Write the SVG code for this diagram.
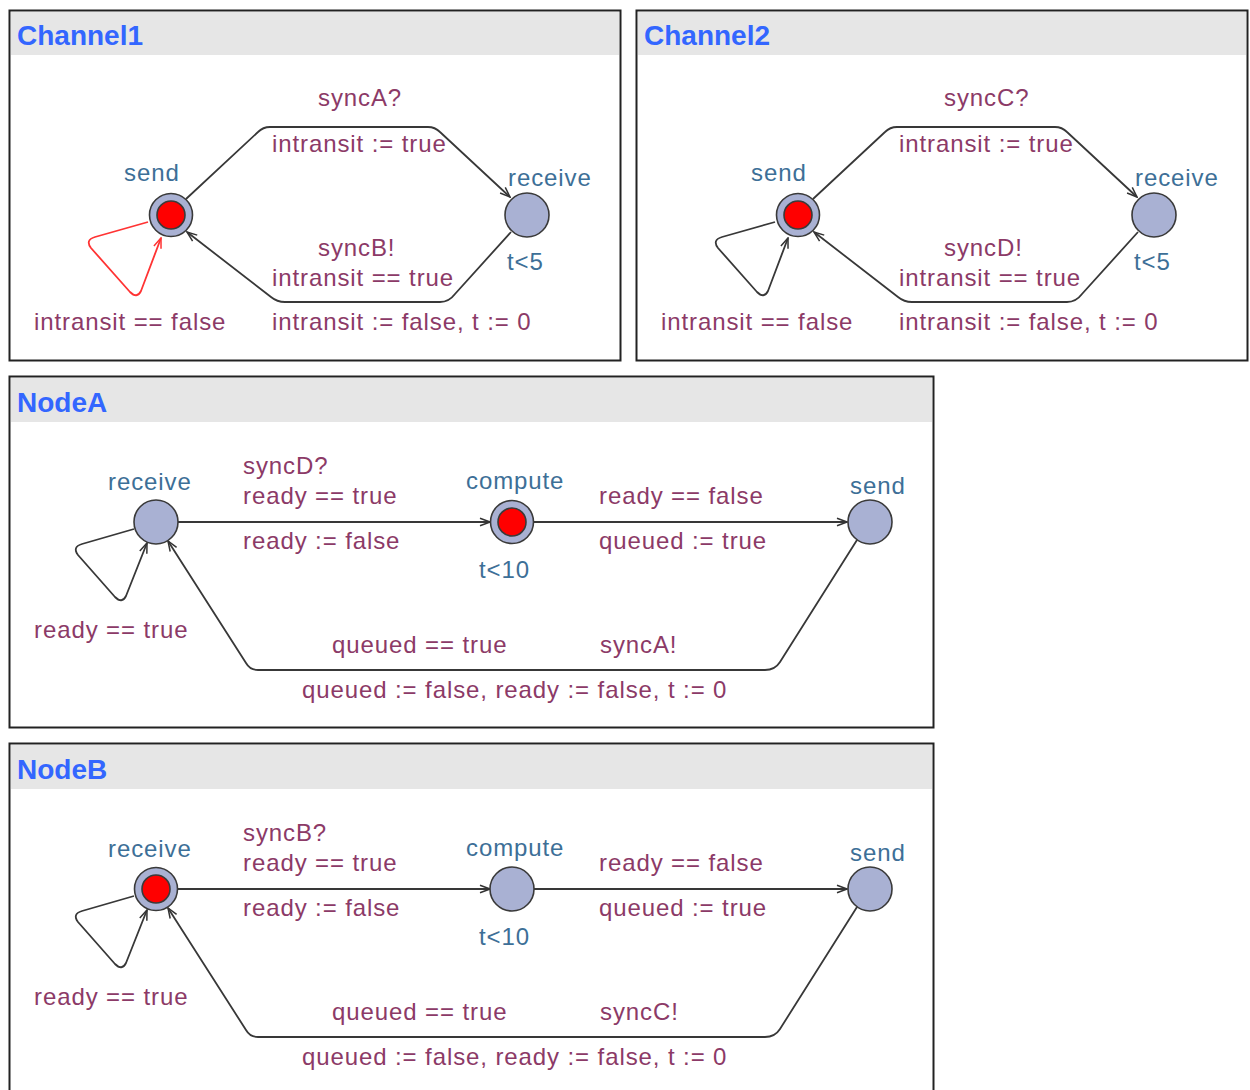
<svg xmlns="http://www.w3.org/2000/svg" width="1250" height="1090" viewBox="0 0 1250 1090">
  <defs>
    <style>
      .panel { fill: #ffffff; stroke: #222222; stroke-width: 2; }
      .hdr { fill: #e6e6e6; }
      .title { font-family: "Liberation Sans", Arial, sans-serif; font-weight: bold; font-size: 28px; fill: #3366ff; }
      .lbl { font-family: "Liberation Sans", Arial, sans-serif; font-size: 24px; fill: #8c3a67; letter-spacing: 0.9px; }
      .name { font-family: "Liberation Sans", Arial, sans-serif; font-size: 24px; fill: #3d6f97; letter-spacing: 0.9px; }
      .loc { fill: #a9b1d3; stroke: #3a3a3a; stroke-width: 1.6; }
      .cur { fill: #ff0000; stroke: #3a3a3a; stroke-width: 1.6; }
      .edge { fill: none; stroke: #383838; stroke-width: 1.8; marker-end: url(#arr); }
      .edge-red { fill: none; stroke: #ff3333; stroke-width: 1.8; marker-end: url(#arr-red); }
    </style>
    <marker id="arr" viewBox="0 0 12 10" refX="11" refY="5" markerWidth="12" markerHeight="10" markerUnits="userSpaceOnUse" orient="auto">
      <path d="M1,1.2 L11,5 L1,8.8" fill="none" stroke="#333333" stroke-width="1.5"/>
    </marker>
    <marker id="arr-red" viewBox="0 0 12 10" refX="11" refY="5" markerWidth="12" markerHeight="10" markerUnits="userSpaceOnUse" orient="auto">
      <path d="M1,1.2 L11,5 L1,8.8" fill="none" stroke="#ff3333" stroke-width="1.5"/>
    </marker>
  </defs>

  <rect width="1250" height="1090" fill="#ffffff"/>

  <!-- ===== Channel1 ===== -->
  <g id="channel1">
    <rect class="panel" x="9.5" y="10.5" width="611" height="350"/>
    <rect class="hdr" x="11" y="12" width="608" height="43"/>
    <text class="title" x="17" y="45">Channel1</text>

    <g id="channel1-edges">
      <path class="edge" d="M186,199 L258,132 Q263,127 270,127 L428,127 Q435,127 440,132 L510,197"/>
      <path class="edge" d="M511,232 L455,294 Q449,302 440,302 L285,302 Q277,302 271,297 L187,232"/>
      <path class="edge-red" d="M148,222 L95,237 Q85,240 91,248 L130,292 Q137,299 141,291 L161,238"/>
    </g>

    <g id="channel1-send">
      <circle class="loc" cx="171" cy="215" r="21.5"/>
      <circle class="cur" cx="171" cy="215" r="14"/>
      <text class="name" x="124" y="181">send</text>
    </g>
    <g id="channel1-receive">
      <circle class="loc" cx="527" cy="215" r="22"/>
      <text class="name" x="508" y="186">receive</text>
      <text class="name" x="507" y="270">t&lt;5</text>
    </g>

    <g id="channel1-labels">
      <text class="lbl" x="318" y="106">syncA?</text>
      <text class="lbl" x="272" y="152">intransit := true</text>
      <text class="lbl" x="318" y="256">syncB!</text>
      <text class="lbl" x="272" y="286">intransit == true</text>
      <text class="lbl" x="272" y="330">intransit := false, t := 0</text>
      <text class="lbl" x="34" y="330">intransit == false</text>
    </g>
  </g>

  <!-- ===== Channel2 ===== -->
  <g id="channel2">
    <rect class="panel" x="636.5" y="10.5" width="611" height="350"/>
    <rect class="hdr" x="638" y="12" width="608" height="43"/>
    <text class="title" x="644" y="45">Channel2</text>

    <g id="channel2-edges">
      <path class="edge" d="M813,199 L885,132 Q890,127 897,127 L1055,127 Q1062,127 1067,132 L1137,197"/>
      <path class="edge" d="M1138,232 L1082,294 Q1076,302 1067,302 L912,302 Q904,302 898,297 L814,232"/>
      <path class="edge" d="M775,222 L722,237 Q712,240 718,248 L757,292 Q764,299 768,291 L788,238"/>
    </g>

    <g id="channel2-send">
      <circle class="loc" cx="798" cy="215" r="21.5"/>
      <circle class="cur" cx="798" cy="215" r="14"/>
      <text class="name" x="751" y="181">send</text>
    </g>
    <g id="channel2-receive">
      <circle class="loc" cx="1154" cy="215" r="22"/>
      <text class="name" x="1135" y="186">receive</text>
      <text class="name" x="1134" y="270">t&lt;5</text>
    </g>

    <g id="channel2-labels">
      <text class="lbl" x="944" y="106">syncC?</text>
      <text class="lbl" x="899" y="152">intransit := true</text>
      <text class="lbl" x="944" y="256">syncD!</text>
      <text class="lbl" x="899" y="286">intransit == true</text>
      <text class="lbl" x="899" y="330">intransit := false, t := 0</text>
      <text class="lbl" x="661" y="330">intransit == false</text>
    </g>
  </g>

  <!-- ===== NodeA ===== -->
  <g id="nodeA">
    <rect class="panel" x="9.5" y="376.5" width="924" height="351"/>
    <rect class="hdr" x="11" y="378" width="921" height="44"/>
    <text class="title" x="17" y="412">NodeA</text>

    <g id="nodeA-edges">
      <path class="edge" d="M178,522 L490,522"/>
      <path class="edge" d="M534,522 L847,522"/>
      <path class="edge" d="M857,540 L780,662 Q775,670 765,670 L258,670 Q250,670 246,663 L168,541"/>
      <path class="edge" d="M134,529 L82,544 Q72,547 78,555 L115,597 Q122,604 126,596 L147,543"/>
    </g>

    <g id="nodeA-receive">
      <circle class="loc" cx="156" cy="522" r="22"/>
      <text class="name" x="108" y="490">receive</text>
    </g>
    <g id="nodeA-compute">
      <circle class="loc" cx="512" cy="522" r="21.5"/>
      <circle class="cur" cx="512" cy="522" r="14"/>
      <text class="name" x="466" y="489">compute</text>
      <text class="name" x="479" y="578">t&lt;10</text>
    </g>
    <g id="nodeA-send">
      <circle class="loc" cx="870" cy="522" r="22"/>
      <text class="name" x="850" y="494">send</text>
    </g>

    <g id="nodeA-labels">
      <text class="lbl" x="243" y="474">syncD?</text>
      <text class="lbl" x="243" y="504">ready == true</text>
      <text class="lbl" x="243" y="549">ready := false</text>
      <text class="lbl" x="599" y="504">ready == false</text>
      <text class="lbl" x="599" y="549">queued := true</text>
      <text class="lbl" x="34" y="638">ready == true</text>
      <text class="lbl" x="332" y="653">queued == true</text>
      <text class="lbl" x="600" y="653">syncA!</text>
      <text class="lbl" x="302" y="698">queued := false, ready := false, t := 0</text>
    </g>
  </g>

  <!-- ===== NodeB ===== -->
  <g id="nodeB">
    <rect class="panel" x="9.5" y="743.5" width="924" height="360"/>
    <rect class="hdr" x="11" y="745" width="921" height="44"/>
    <text class="title" x="17" y="779">NodeB</text>

    <g id="nodeB-edges">
      <path class="edge" d="M178,889 L490,889"/>
      <path class="edge" d="M534,889 L847,889"/>
      <path class="edge" d="M857,907 L780,1029 Q775,1037 765,1037 L258,1037 Q250,1037 246,1030 L168,908"/>
      <path class="edge" d="M134,896 L82,911 Q72,914 78,922 L115,964 Q122,971 126,963 L147,910"/>
    </g>

    <g id="nodeB-receive">
      <circle class="loc" cx="156" cy="889" r="21.5"/>
      <circle class="cur" cx="156" cy="889" r="14"/>
      <text class="name" x="108" y="857">receive</text>
    </g>
    <g id="nodeB-compute">
      <circle class="loc" cx="512" cy="889" r="22"/>
      <text class="name" x="466" y="856">compute</text>
      <text class="name" x="479" y="945">t&lt;10</text>
    </g>
    <g id="nodeB-send">
      <circle class="loc" cx="870" cy="889" r="22"/>
      <text class="name" x="850" y="861">send</text>
    </g>

    <g id="nodeB-labels">
      <text class="lbl" x="243" y="841">syncB?</text>
      <text class="lbl" x="243" y="871">ready == true</text>
      <text class="lbl" x="243" y="916">ready := false</text>
      <text class="lbl" x="599" y="871">ready == false</text>
      <text class="lbl" x="599" y="916">queued := true</text>
      <text class="lbl" x="34" y="1005">ready == true</text>
      <text class="lbl" x="332" y="1020">queued == true</text>
      <text class="lbl" x="600" y="1020">syncC!</text>
      <text class="lbl" x="302" y="1065">queued := false, ready := false, t := 0</text>
    </g>
  </g>
</svg>
